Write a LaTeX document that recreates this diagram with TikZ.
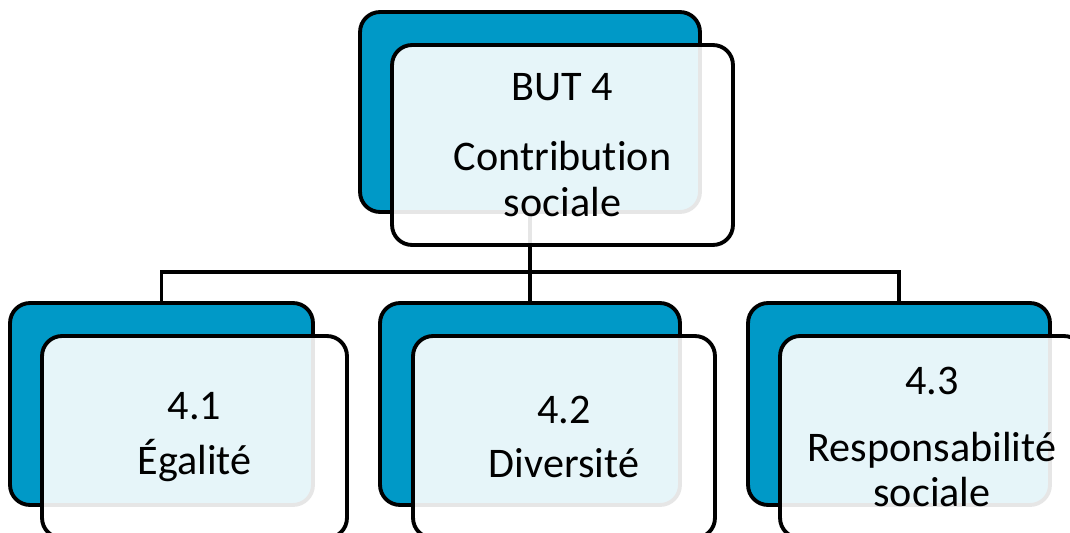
\documentclass[tikz,border=0pt]{standalone}
\usepackage{fontspec}
\setmainfont{Carlito}[Ligatures=NoCommon]
\definecolor{color0}{RGB}{0,153,199}
\tikzset{
	back/.style={draw=black,fill=color0,line width=2.2pt,rounded corners=0.4cm,inner sep=0pt},
	front/.style={draw=black,fill=white,fill opacity=0.9,text opacity=1,line width=2.2pt,rounded corners=0.4cm,inner sep=0pt,align=center,font=\fontsize{24}{26}\selectfont},
	link/.style={draw=black,line width=2.2pt}
}

\begin{document}
\begin{tikzpicture}[x=0.02cm,y=-0.02cm]
	\useasboundingbox (0,0) rectangle (1070,533);
	\node[back,minimum width=6.8cm,minimum height=4cm] (but-back) at (530,112) {};
	\node[back,minimum width=6.06cm,minimum height=4.04cm] (e-back) at (161.5,404) {};
	\node[back,minimum width=6cm,minimum height=4.04cm] (d-back) at (530,404) {};
	\node[back,minimum width=6.04cm,minimum height=4.04cm] (r-back) at (899,404) {};
	\coordinate (bus) at (530,272);
	\draw[link] (but-back.south) -- (bus);
	\draw[link] (e-back.north) |- (bus);
	\draw[link] (r-back.north) |- (bus);
	\draw[link] (d-back.north) -- (bus);
	\node[front,minimum width=6.82cm,minimum height=4cm] (but) at (562.5,145) {BUT 4\\[14pt]Contribution\\sociale};
	\node[front,minimum width=6.1cm,minimum height=4.04cm] (e) at (194.5,437) {4.1\\[5pt]Égalité};
	\node[front,minimum width=6.04cm,minimum height=4.04cm] (d) at (564,437) {4.2\\[5pt]Diversité};
	\node[front,minimum width=6.08cm,minimum height=4.04cm] (r) at (932,437) {4.3\\[12pt]Responsabilité\\sociale};
\end{tikzpicture}
\end{document}
